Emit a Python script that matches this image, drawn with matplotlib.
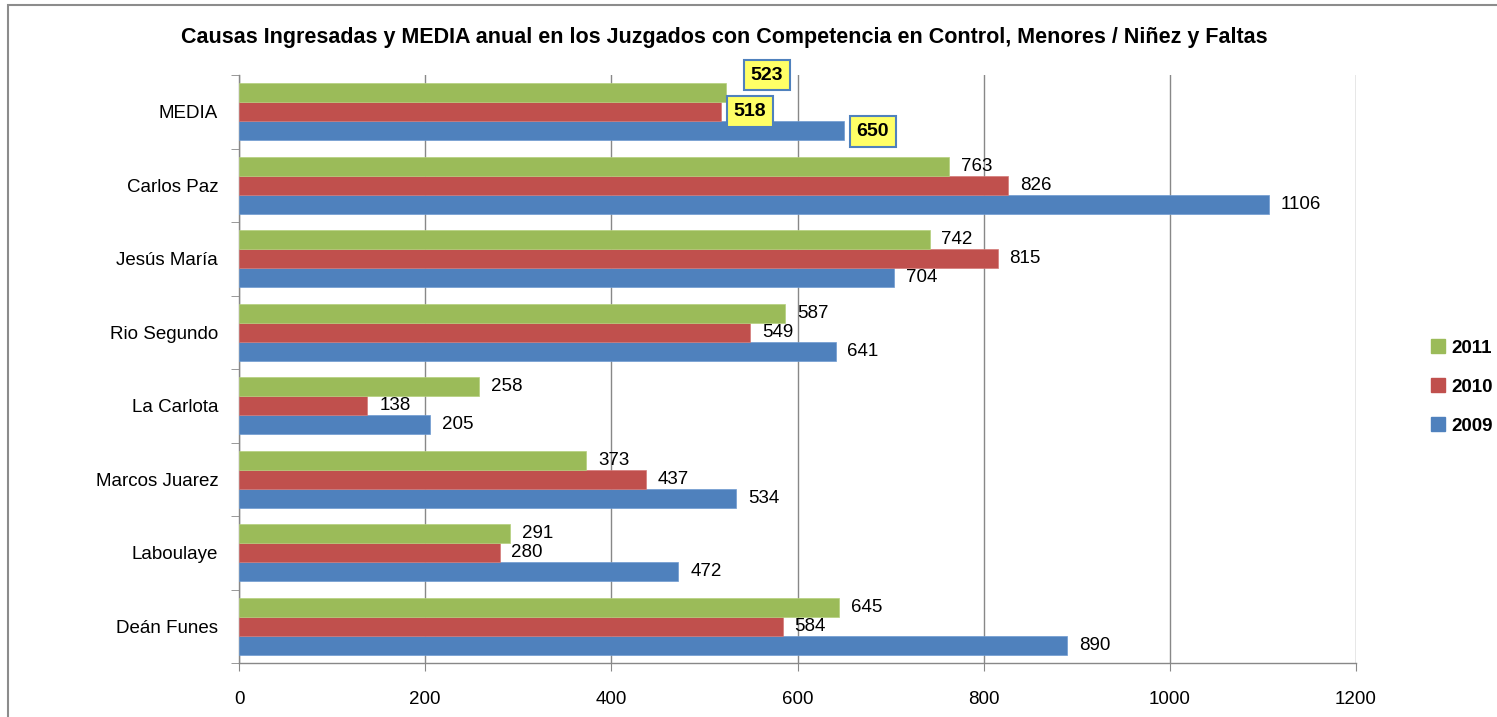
import matplotlib.pyplot as plt
import numpy as np
from matplotlib.patches import Rectangle, Patch

plt.rcParams['font.family'] = ['Liberation Sans', 'DejaVu Sans']

# categories from bottom to top
categorias = ['Deán Funes', 'Laboulaye', 'Marcos Juarez', 'La Carlota',
              'Rio Segundo', 'Jesús María', 'Carlos Paz', 'MEDIA']
v2009 = [890, 472, 534, 205, 641, 704, 1106, 650]
v2010 = [584, 280, 437, 138, 549, 815, 826, 518]
v2011 = [645, 291, 373, 258, 587, 742, 763, 523]
xticks = [0, 200, 400, 600, 800, 1000, 1200]

c2009 = '#4F81BD'
c2010 = '#C0504D'
c2011 = '#9BBB59'
gris = '#888888'

fig = plt.figure(figsize=(14.97, 7.17), dpi=100)
ax = fig.add_axes([239 / 1497, 1 - 663 / 717, (1356 - 239) / 1497, (663 - 75) / 717])

# outer chart frame
fig.patches.append(Rectangle((8 / 1497, -0.1), 1.2, 1.1 - 5 / 717, transform=fig.transFigure,
                             fill=False, edgecolor='#8c8c8c', linewidth=1.5))

y = np.arange(len(categorias))
h = 0.26
ax.barh(y - h, v2009, h, color=c2009, edgecolor='#6f9bd1', linewidth=0.5, zorder=3)
ax.barh(y, v2010, h, color=c2010, edgecolor='#d47a78', linewidth=0.5, zorder=3)
ax.barh(y + h, v2011, h, color=c2011, edgecolor='#b5d07c', linewidth=0.5, zorder=3)

# value labels (MEDIA labels get boxes)
for vals, off in [(v2009, -h), (v2010, 0), (v2011, h)]:
    for i, v in enumerate(vals[:-1]):
        ax.annotate(str(v), (v, i + off), xytext=(8.5, 0), textcoords='offset points',
                    ha='left', va='center', fontsize=13.5)

caja = dict(boxstyle='square,pad=0.35', facecolor='#FFFF66', edgecolor='#4F81BD', linewidth=1.5)
media_pos = [(v2011[-1], 567, 7.5), (v2010[-1], 549, 7.0), (v2009[-1], 681, 6.73)]
for v, xx, yy in media_pos:
    ax.text(xx, yy, str(v), ha='center', va='center', fontsize=14, fontweight='bold',
            bbox=caja, zorder=5)

ax.set_xlim(0, 1200)
ax.set_ylim(-0.5, 7.5)
ax.set_xticks(xticks)
ax.set_xticklabels([str(t) for t in xticks], fontsize=13.5)
ax.set_yticks(y)
ax.set_yticklabels(categorias, fontsize=13.5)
ax.set_yticks(np.arange(-0.5, 8.0, 1), minor=True)
ax.tick_params(axis='y', which='major', length=0, pad=15)
ax.tick_params(axis='y', which='minor', length=6, color=gris, direction='out')
ax.tick_params(axis='x', length=6, color=gris, direction='out', pad=14)
ax.grid(axis='x', color=gris, linewidth=1, zorder=0)
ax.set_axisbelow(True)
for s in ['top', 'right']:
    ax.spines[s].set_visible(False)
for s in ['left', 'bottom']:
    ax.spines[s].set_color(gris)
    ax.spines[s].set_linewidth(1)

fig.text(724 / 1497, 1 - 37 / 717,
         'Causas Ingresadas y MEDIA anual en los Juzgados con Competencia en Control, Menores / Niñez y Faltas',
         ha='center', va='center', fontsize=15.5, fontweight='bold')

handles = [Patch(color=c2011), Patch(color=c2010), Patch(color=c2009)]
fig.legend(handles, ['2011', '2010', '2009'], loc='center left',
           bbox_to_anchor=(1422 / 1497, 1 - 387 / 717), frameon=False,
           prop={'size': 13.5, 'weight': 'bold'}, handlelength=0.75, handleheight=0.75,
           handletextpad=0.3, labelspacing=1.15, borderpad=0)

fig.savefig('out.png', dpi=100)
